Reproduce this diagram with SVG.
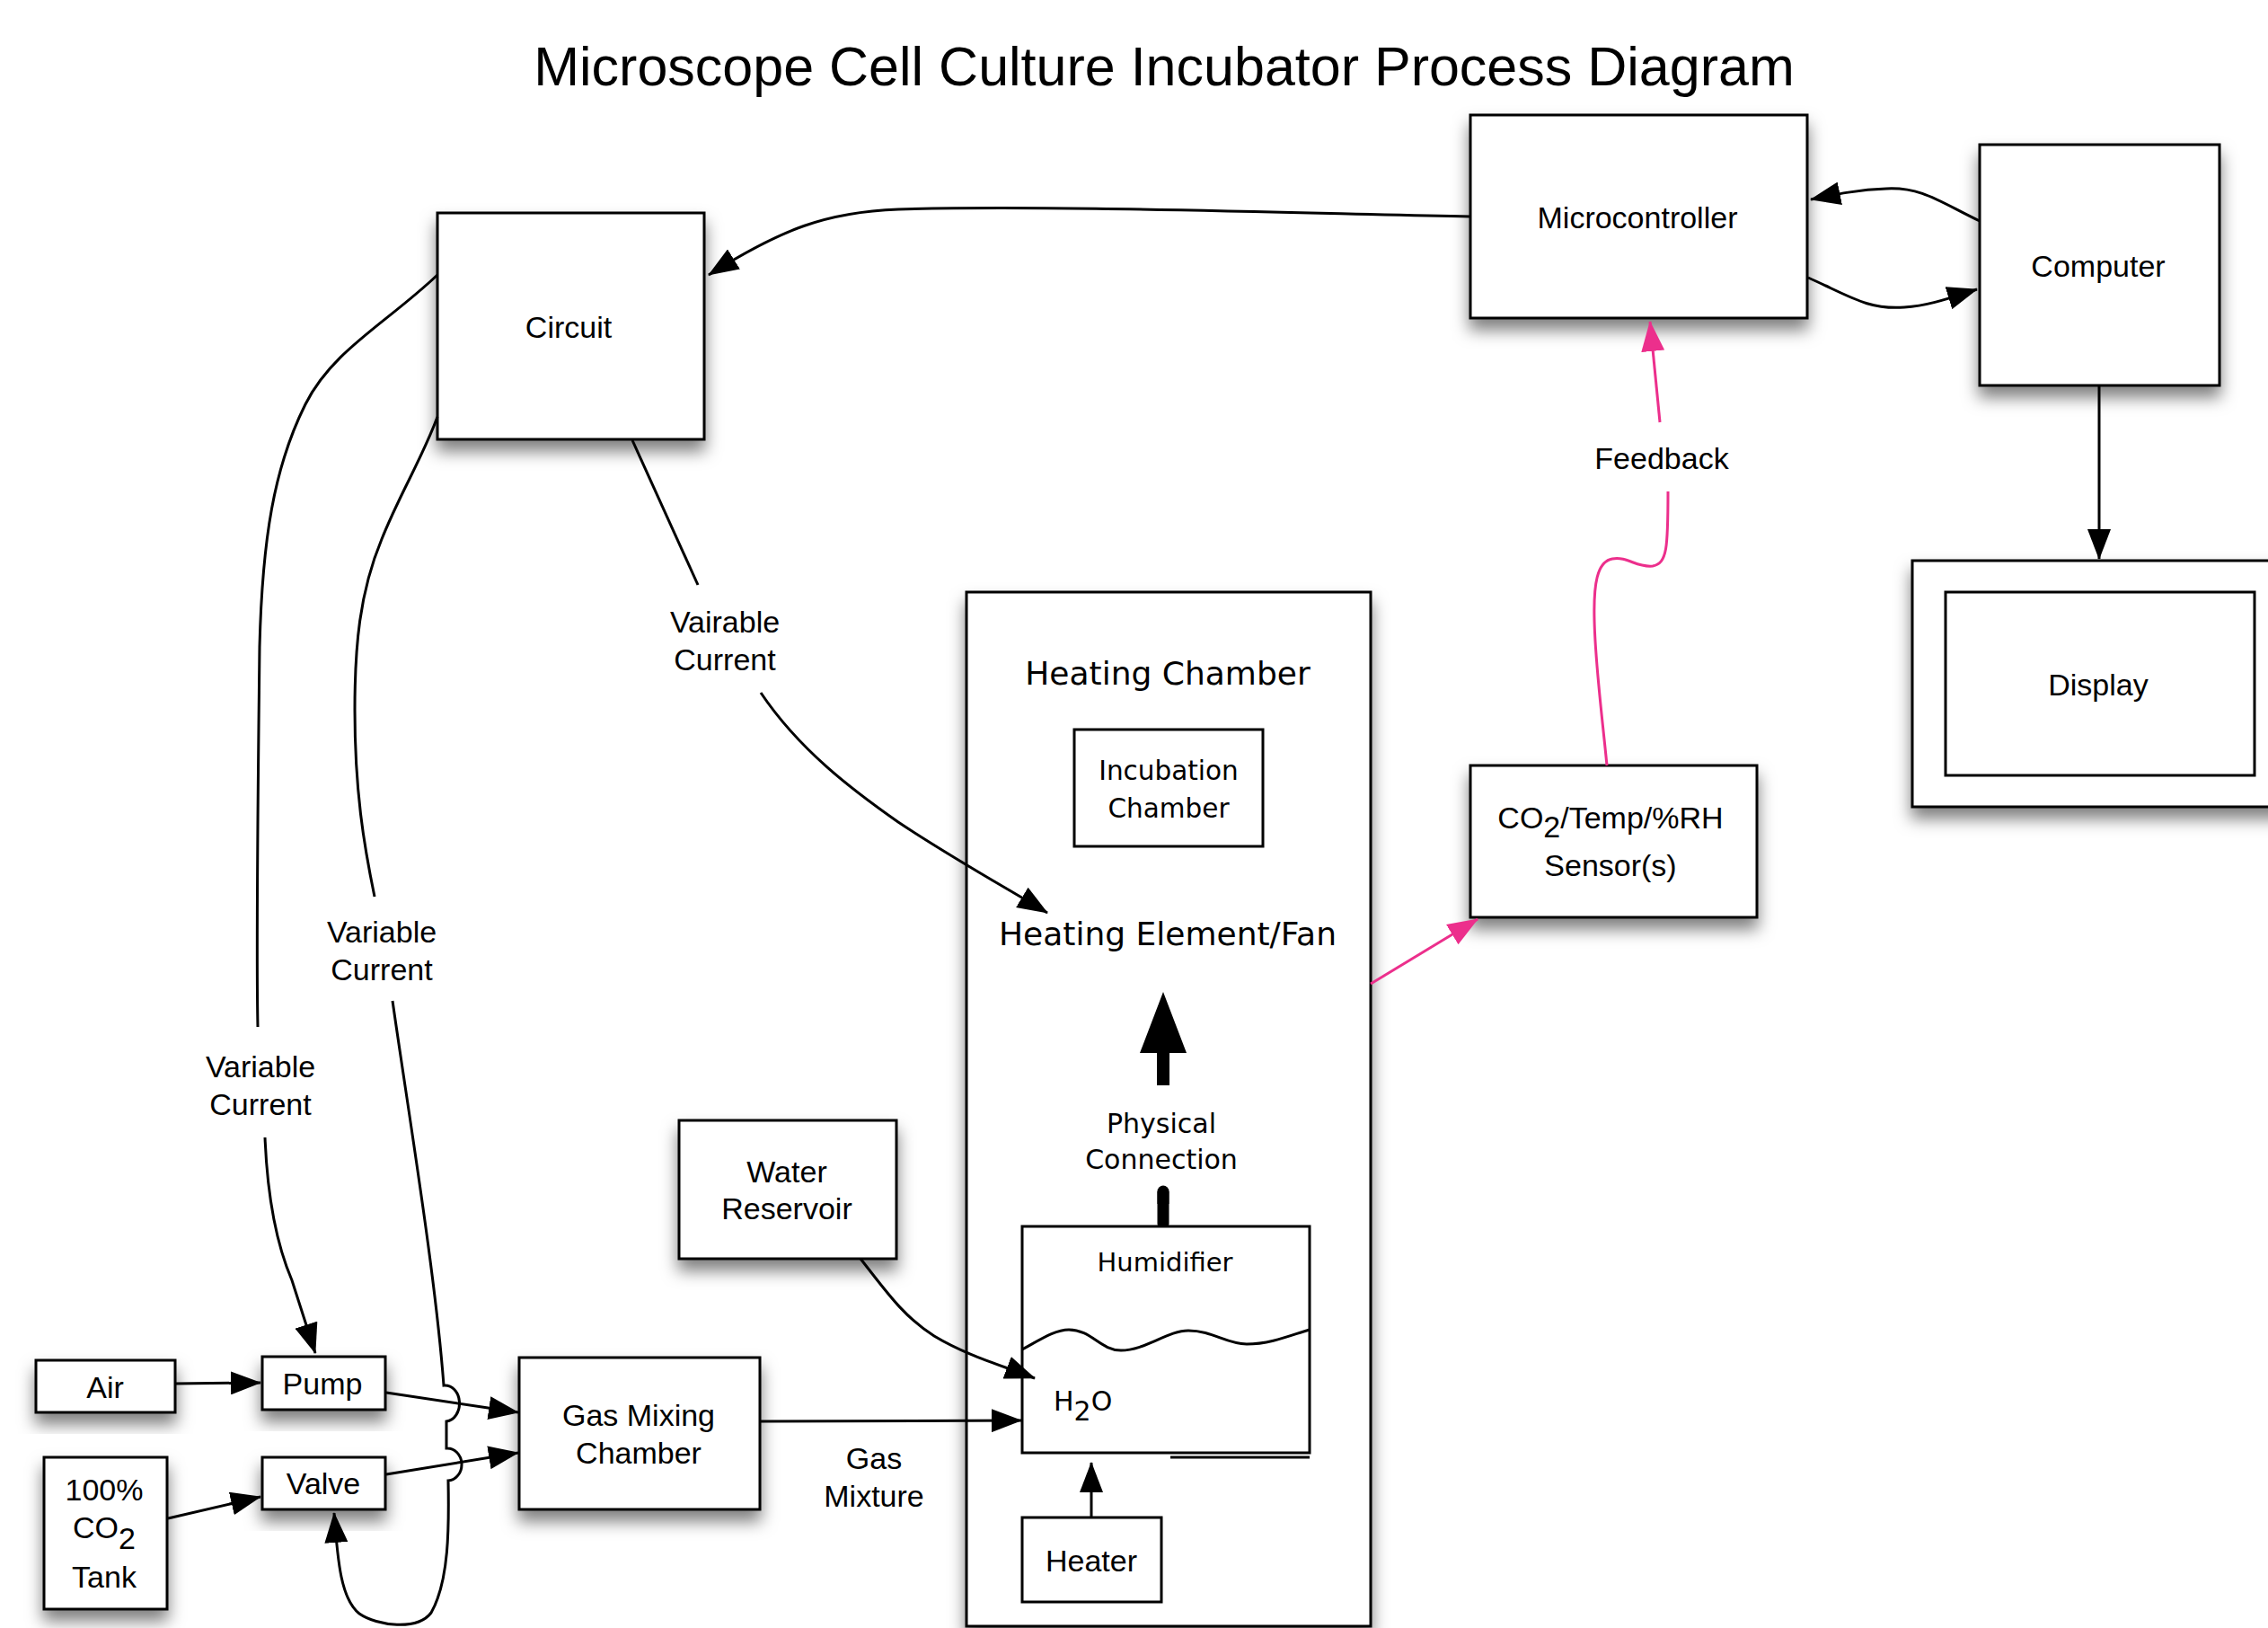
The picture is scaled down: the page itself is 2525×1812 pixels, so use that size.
<svg xmlns="http://www.w3.org/2000/svg" width="2525" height="1812" viewBox="0 0 2525 1812">
<style>
.box{fill:#fff;stroke:#000;stroke-width:3}
.ibox{fill:none;stroke:#000;stroke-width:3}
.h{font-family:"Liberation Sans",Arial,Helvetica,sans-serif;font-size:34px;text-anchor:middle;fill:#000}
.l{font-family:"DejaVu Sans",Verdana,sans-serif;text-anchor:middle;fill:#000}
.c{fill:none;stroke:#000;stroke-width:3}
.p{fill:none;stroke:#ec2f8c;stroke-width:3}
</style>
<defs>
<filter id="sh" x="-30%" y="-30%" width="160%" height="170%">
<feDropShadow dx="0" dy="12" stdDeviation="9" flood-color="#000" flood-opacity="0.5"/>
</filter>
<marker id="ah" markerUnits="userSpaceOnUse" markerWidth="34" markerHeight="26" viewBox="0 0 34 26" refX="33" refY="13" orient="auto"><path d="M0,0 L34,13 L0,26 z" fill="#000"/></marker>
<marker id="ap" markerUnits="userSpaceOnUse" markerWidth="34" markerHeight="26" viewBox="0 0 34 26" refX="33" refY="13" orient="auto"><path d="M0,0 L34,13 L0,26 z" fill="#ec2f8c"/></marker>
</defs>
<rect width="2525" height="1812" fill="#fff"/>
<text x="1296" y="95" font-family="Liberation Sans, Arial, sans-serif" font-size="61" text-anchor="middle">Microscope Cell Culture Incubator Process Diagram</text>

<g id="heating-chamber">
<rect class="box" x="1076" y="659" width="450" height="1151" filter="url(#sh)"/>
<text class="l" x="1300" y="762" font-size="36">Heating Chamber</text>
<text class="l" x="1300" y="1052" font-size="36">Heating Element/Fan</text>
<text class="l" x="1293" y="1261" font-size="30">Physical</text>
<text class="l" x="1293" y="1301" font-size="30">Connection</text>
<path d="M1295,1104 L1321,1172 L1302,1172 L1302,1208 L1288,1208 L1288,1172 L1269,1172 Z" fill="#000"/>
<path d="M1295,1326 L1295,1362" stroke="#000" stroke-width="13" stroke-linecap="round" fill="none"/>
<path d="M1295,1326 L1295,1340" stroke="#000" stroke-width="13" fill="none"/>
</g>
<g id="incubation-chamber">
<rect class="ibox" x="1196" y="812" width="210" height="130"/>
<text class="l" x="1301" y="868" font-size="29.5">Incubation</text>
<text class="l" x="1301" y="910" font-size="29.5">Chamber</text>
</g>
<g id="humidifier">
<rect class="box" x="1138" y="1365" width="320" height="252"/>
<path class="c" d="M1303,1622 L1458,1622"/>
<path class="c" d="M1138,1502 C1160,1490 1175,1480 1190,1480 C1215,1480 1225,1503 1248,1503 C1275,1503 1300,1481 1323,1481 C1350,1481 1365,1496 1388,1496 C1415,1496 1440,1485 1458,1480"/>
<text class="l" x="1297" y="1415" font-size="29">Humidifier</text>
<text class="l" x="1173" y="1570" font-size="30" style="text-anchor:start">H<tspan dy="11">2</tspan><tspan dy="-11">O</tspan></text>
</g>
<g id="heater">
<rect class="ibox" x="1138" y="1689" width="155" height="94"/>
<text class="h" x="1215" y="1749" font-size="33">Heater</text>
</g>
<g id="circuit">
<rect class="box" x="487" y="237" width="297" height="252" filter="url(#sh)"/>
<text class="h" x="633" y="376">Circuit</text>
</g>
<g id="microcontroller">
<rect class="box" x="1637" y="128" width="375" height="226" filter="url(#sh)"/>
<text class="h" x="1823" y="254">Microcontroller</text>
</g>
<g id="computer">
<rect class="box" x="2204" y="161" width="267" height="268" filter="url(#sh)"/>
<text class="h" x="2336" y="308">Computer</text>
</g>
<g id="display">
<rect class="box" x="2129" y="624" width="430" height="274" filter="url(#sh)"/>
<rect class="ibox" x="2166" y="659" width="344" height="204"/>
<text class="h" x="2336" y="774">Display</text>
</g>
<g id="sensor">
<rect class="box" x="1637" y="852" width="319" height="169" filter="url(#sh)"/>
<text class="h" x="1793" y="922">CO<tspan dy="10">2</tspan><tspan dy="-10">/Temp/%RH</tspan></text>
<text class="h" x="1793" y="975">Sensor(s)</text>
</g>
<g id="water-reservoir">
<rect class="box" x="756" y="1247" width="242" height="154" filter="url(#sh)"/>
<text class="h" x="876" y="1316">Water</text>
<text class="h" x="876" y="1357">Reservoir</text>
</g>
<g id="air">
<rect class="box" x="40" y="1514" width="155" height="58" filter="url(#sh)"/>
<text class="h" x="117" y="1556">Air</text>
</g>
<g id="pump">
<rect class="box" x="292" y="1510" width="137" height="59" filter="url(#sh)"/>
<text class="h" x="359" y="1552">Pump</text>
</g>
<g id="valve">
<rect class="box" x="292" y="1622" width="137" height="58" filter="url(#sh)"/>
<text class="h" x="360" y="1663">Valve</text>
</g>
<g id="co2-tank">
<rect class="box" x="49" y="1622" width="137" height="169" filter="url(#sh)"/>
<text class="h" x="116" y="1670">100%</text>
<text class="h" x="116" y="1712">CO<tspan dy="12">2</tspan></text>
<text class="h" x="116" y="1767">Tank</text>
</g>
<g id="gas-mixing-chamber">
<rect class="box" x="578" y="1511" width="268" height="169" filter="url(#sh)"/>
<text class="h" x="711" y="1587">Gas Mixing</text>
<text class="h" x="711" y="1629">Chamber</text>
</g>

<g id="connectors">
<path class="c" d="M1637,241 C1400,236 1150,228 1000,233 C920,236 870,255 789,306" marker-end="url(#ah)"/>
<path class="c" d="M2204,246 C2160,225 2140,208 2100,210 C2070,211 2045,216 2016,222" marker-end="url(#ah)"/>
<path class="c" d="M2013,309 C2060,330 2080,345 2120,342 C2150,340 2175,330 2201,322" marker-end="url(#ah)"/>
<path class="c" d="M2337,430 L2337,622" marker-end="url(#ah)"/>
<path class="p" d="M1848,470 L1837,358" marker-end="url(#ap)"/>
<text class="h" x="1850" y="522">Feedback</text>
<path class="p" d="M1789,852 C1784,800 1776,740 1775,690 C1774,650 1778,625 1795,622 C1812,619 1822,632 1840,630 C1856,627 1857,610 1857,547"/>
<path class="p" d="M1526,1095 L1645,1023" marker-end="url(#ap)"/>
<path class="c" d="M704,490 L777,651"/>
<text class="h" x="807" y="704">Vairable</text>
<text class="h" x="807" y="746">Current</text>
<path class="c" d="M847,771 C890,835 950,880 1000,915 C1060,955 1120,988 1166,1016" marker-end="url(#ah)"/>
<path class="c" d="M487,306 C430,360 370,390 340,450 C305,520 292,600 289,720 C287,900 285,1050 287,1143"/>
<text class="h" x="290" y="1199">Variable</text>
<text class="h" x="290" y="1241">Current</text>
<path class="c" d="M295,1266 C298,1340 310,1390 325,1425 L351,1506" marker-end="url(#ah)"/>
<path class="c" d="M487,464 C470,510 445,550 425,600 C400,660 395,720 395,790 C395,880 405,940 417,998"/>
<text class="h" x="425" y="1049">Variable</text>
<text class="h" x="425" y="1091">Current</text>
<path class="c" d="M437,1114 C455,1240 485,1420 494,1542 A16,20 0 0 1 497,1582 L497,1612 A16,18 0 0 1 499,1648 C500,1700 500,1760 480,1795 C465,1815 420,1810 400,1796 C380,1780 376,1740 372,1684" marker-end="url(#ah)"/>
<path class="c" d="M195,1540 L290,1539" marker-end="url(#ah)"/>
<path class="c" d="M187,1690 L290,1666" marker-end="url(#ah)"/>
<path class="c" d="M430,1550 L577,1572" marker-end="url(#ah)"/>
<path class="c" d="M430,1641 L577,1617" marker-end="url(#ah)"/>
<path class="c" d="M846,1582 L1137,1581" marker-end="url(#ah)"/>
<text class="h" x="973" y="1635">Gas</text>
<text class="h" x="973" y="1677">Mixture</text>
<path class="c" d="M958,1401 C985,1435 1005,1465 1040,1487 C1075,1508 1110,1518 1152,1534" marker-end="url(#ah)"/>
<path class="c" d="M1215,1689 L1215,1628" marker-end="url(#ah)"/>
</g>
</svg>
